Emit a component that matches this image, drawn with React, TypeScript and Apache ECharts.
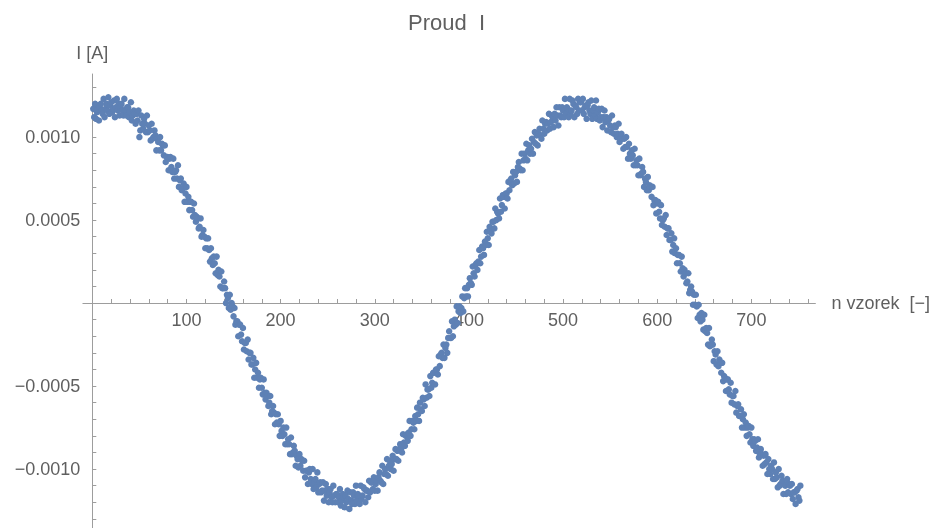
import React, { useEffect, useRef } from "react";
import * as echarts from "echarts";

// Current I in units of 1e-5 A, read sample by sample (n = 1 .. 752)
const currentSeg1: number[] = [
  117,112,120,111,115, 117,110,118,120,116, 114,123,112,117,120, 116,124,114,119,121, 115,117,122,112,118, 123,116,120,113,118, 120,116,113,123,116, 113,118,
  118,112,115, 121,110,113,116,114, 108,114,110,116,100, 104,113,108,105,111, 108,103,113,103,107, 104,98,108,99,100, 104,101,92,99,97, 92,100,92,96,
  95, 89,95,85,88,88, 80,87,88,82,79, 87,75,79,80,75, 83,70,74,75,68, 69,72,61,66,70, 61,64,56,61,61, 56,52,60,53,49, 52,
  51,45,46,51, 40,41,44,40,33, 39,33,39,32,25, 33,27,23,28,24, 18,28,17,20,16, 10,19,9,9,13, 9,0,5,3,-3, 5,-4,0,
];

const currentSeg2: number[] = [
  -2,-8, -3,-13,-11,-11,-20, -13,-13,-19,-23,-15, -28,-24,-24,-29,-22, -34,-30,-30,-37,-37, -33,-45,-40,-36,-45, -42,-51,-46,-45,-51, -55,-46,-54,-58,-54,
  -56,-62,-60,-56,-67, -65,-62,-66,-73,-67, -72,-67,-73,-80,-71, -77,-80,-75,-79,-85, -75,-85,-82,-85,-91, -81,-91,-90,-86,-89, -98,-92,-94,-99,-91, -98,-94,
  -95,-101,-95, -105,-101,-101,-109,-102, -100,-106,-109,-100,-112, -108,-106,-111,-102,-114, -109,-108,-114,-113,-108, -119,-113,-109,-116,-112, -120,-114,-112,-117,-120, -110,-116,-120,-115,
  -115, -120,-117,-112,-122,-119, -115,-117,-123,-116,-120, -113,-118,-124,-114,-119, -121,-114,-116,-121,-110, -119,-115,-116,-121,-110, -118,-116,-111,-112,-120, -113,-113,-117,-107,-114, -108,
  -108,-112,-105,-113, -109,-107,-113,-105,-102, -107,-108,-98,-109,-103, -100,-103,-94,-104,-98, -95,-100,-97,-92,-101, -94,-88,-94,-89,-95, -88,-85,-88,-90,-79, -84,-86,-80,
  -79,-83, -78,-71,-80,-76,-71, -72,-76,-68,-71,-63, -67,-71,-60,-64,-65, -57,-58,-62,-49,-57, -52,-52,-56,-44,-51, -48,-42,-42,-49,-40, -40,-43,-32,-38,-31,
];

const currentSeg3: number[] = [
  -30,-33,-25,-33,-27, -25,-30,-21,-17,-21, -21,-11,-20,-14,-10, -13,-2,-12,-5,-2, -6,-3,4,-5,3, 9,4,9,4,11, 15,12,11,22,18, 16,23,
  24,20,25, 32,24,28,34,33, 29,37,35,43,39, 35,46,43,42,49, 49,45,57,50,55, 54,51,63,55,59, 65,64,57,66,66, 63,73,68,74,
  75, 71,79,72,77,79, 73,82,85,81,80, 90,80,86,90,87, 96,86,92,95,90, 93,99,90,97,103, 96,101,95,102,105, 101,99,110,105,102, 108,
  109,104,108,114, 105,109,113,112,106, 114,110,118,113,107, 118,113,112,118,116, 112,123,114,118,117, 112,123,114,116,122, 120,112,119,118,114, 123,116,121,
  121,116, 123,114,118,119,111, 119,121,116,114,122, 111,116,118,113,122, 111,115,117,110,112, 117,106,112,116,109, 112,104,110,111,107, 103,113,106,102,107,
  106,100,102,108,97, 99,102,99,93,99, 94,100,94,87,96, 90,87,92,89,83, 93,83,86,83,77, 87,77,78,82,79, 70,75,73,68,76, 68,71,
];

const currentSeg4: number[] = [
  70,64,70, 59,62,62,54,60, 61,55,51,59,47, 50,51,46,53,41, 45,45,38,38,42, 31,35,39,30,33, 24,29,29,24,19, 28,21,16,20,
  18, 12,13,18,6,8, 10,7,-1,5,-1, 5,-2,-9,-1,-7, -11,-6,-10,-16,-7, -17,-15,-18,-25,-15, -26,-25,-22,-25,-35, -29,-31,-37,-29,-38, -34,
  -36,-42,-36,-47, -44,-45,-53,-46,-46, -52,-55,-48,-60,-56, -56,-61,-53,-66,-62, -61,-68,-68,-64,-75, -70,-67,-75,-72,-80, -75,-74,-79,-84,-75, -82,-86,-82,
  -83,-89, -87,-82,-93,-91,-88, -91,-98,-92,-97,-91, -96,-103,-94,-100,-103, -98,-100,-106,-96,-106, -102,-105,-111,-100,-110, -109,-104,-107,-115,-109, -110,-115,-106,-114,-109,
  -110,-115,-109,-118,-114,-114,-121,-113,-112,-117,-119,-110,
];

const xTickLabels: number[] = [100, 200, 300, 400, 500, 600, 700];
const yTickLabels: number[] = [-0.001, -0.0005, 0.0005, 0.001];

const TEXT = "#5f5f5f";
const AXIS = "#9d9d9d";
const FONT = "'Liberation Sans', Arial, sans-serif";

export default function App() {
  const ref = useRef<HTMLDivElement>(null);

  useEffect(() => {
    if (!ref.current) return;
    const chart = echarts.init(ref.current, null, { renderer: "svg" });

    const values = [...currentSeg1, ...currentSeg2, ...currentSeg3, ...currentSeg4];
    const data = values.map((v, i) => [i + 1, v * 1e-5]);

    const xMinor: number[] = [];
    for (let k = 1; k <= 38; k++) xMinor.push(k * 20);
    const yMinor: number[] = [];
    for (let k = -13; k <= 13; k++) if (k !== 0) yMinor.push(k / 10000);

    // plot geometry: grid spans the whole axis ranges; axes cross at (0, 0)
    const gridLeft = 82.9;
    const gridTop = 74;
    const zeroX = 92.3;
    const zeroY = 303;

    chart.setOption({
      animation: false,
      textStyle: { fontFamily: FONT },
      title: {
        text: "Proud  I",
        left: 408,
        top: 11,
        padding: 0,
        textStyle: { fontSize: 22, fontWeight: "normal", color: TEXT, fontFamily: FONT },
      },
      grid: {
        left: gridLeft,
        right: 121.6,
        top: gridTop,
        bottom: 0,
        containLabel: false,
        outerBoundsMode: "none",
      },
      xAxis: {
        type: "value",
        min: -10,
        max: 768,
        position: "bottom",
        offset: -(528 - zeroY),
        name: "n vzorek  [−]",
        nameLocation: "end",
        nameGap: 16,
        nameTextStyle: { fontSize: 18, color: TEXT, fontFamily: FONT },
        axisLine: { show: true, onZero: false, lineStyle: { color: AXIS, width: 1 } },
        axisTick: { show: true, inside: true, length: 4, customValues: xMinor, lineStyle: { color: AXIS } },
        axisLabel: {
          customValues: xTickLabels,
          fontSize: 18,
          color: TEXT,
          margin: 8,
          fontFamily: FONT,
        },
        splitLine: { show: false },
      },
      yAxis: {
        type: "value",
        min: -0.001355,
        max: 0.00138,
        position: "left",
        offset: gridLeft - zeroX,
        name: "I [A]",
        nameLocation: "end",
        nameGap: 12,
        nameTextStyle: { fontSize: 18, color: TEXT, fontFamily: FONT, align: "center" },
        axisLine: { show: true, onZero: false, lineStyle: { color: AXIS, width: 1 } },
        axisTick: { show: true, inside: true, length: 4, customValues: yMinor, lineStyle: { color: AXIS } },
        axisLabel: {
          customValues: yTickLabels,
          fontSize: 18,
          color: TEXT,
          margin: 12,
          fontFamily: FONT,
          formatter: (v: number) =>
            v === 0 ? "" : (v < 0 ? "\u2212" : "") + Math.abs(v).toFixed(4),
        },
        splitLine: { show: false },
      },
      series: [
        {
          type: "scatter",
          data,
          symbol: "circle",
          symbolSize: 6.5,
          itemStyle: { color: "#5E81B5", opacity: 1 },
          emphasis: { disabled: true },
        },
      ],
    });

    return () => chart.dispose();
  }, []);

  return (
    <div
      ref={ref}
      style={{ position: "fixed", left: 0, top: 0, width: 937, height: 528 }}
    />
  );
}
